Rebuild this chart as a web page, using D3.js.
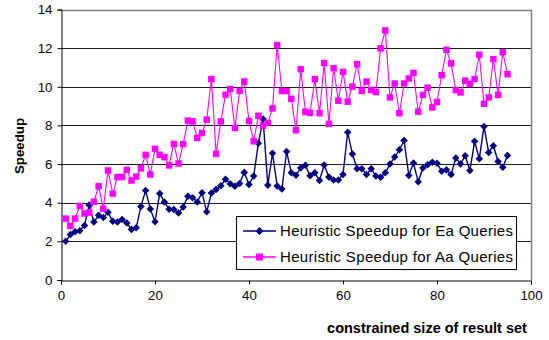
<!DOCTYPE html>
<html>
<head>
<meta charset="utf-8">
<script src="https://cdn.jsdelivr.net/npm/d3@7"></script>
<style>
  html, body { margin: 0; padding: 0; background: #fff; }
  svg { display: block; font-family: "Liberation Sans", Arial, sans-serif; }
</style>
</head>
<body>
<div id="chart"></div>
<script>
const xs = d3.range(1, 96);
const eaSpeedup = [2.0, 2.35, 2.5, 2.55, 2.82, 3.88, 3.0, 3.35, 3.23, 3.51,
  3.04, 3.0, 3.13, 2.95, 2.62, 2.7, 3.8, 4.63, 3.68, 3.01,
  4.48, 4.04, 3.66, 3.65, 3.47, 3.78, 4.34, 4.26, 4.04, 4.52,
  3.53, 4.5, 4.69, 4.88, 5.21, 4.98, 4.85, 5.0, 5.57, 4.94,
  5.38, 7.08, 8.33, 4.91, 6.56, 4.86, 4.71, 6.65, 5.55, 5.42,
  5.8, 5.94, 5.4, 5.55, 5.15, 5.95, 5.33, 5.17, 5.18, 5.46,
  7.65, 6.52, 5.76, 5.76, 5.46, 5.76, 5.38, 5.32, 5.55, 6.0,
  6.36, 6.74, 7.22, 5.41, 6.05, 5.08, 5.8, 5.96, 6.1, 6.04,
  5.63, 5.7, 5.46, 6.31, 6.01, 6.43, 5.67, 7.18, 6.27, 7.95,
  6.6, 6.95, 6.13, 5.83, 6.44];
const aaSpeedup = [3.18, 2.8, 3.18, 3.83, 3.44, 3.49, 4.05, 4.85, 3.69, 5.67,
  4.47, 5.33, 5.33, 5.7, 5.15, 5.35, 5.78, 6.48, 5.46, 6.79,
  6.48, 6.36, 5.93, 7.04, 6.03, 7.04, 8.25, 8.21, 7.35, 7.61,
  8.3, 10.4, 6.53, 8.21, 9.59, 9.88, 7.87, 9.79, 10.27, 8.23,
  7.18, 8.5, 7.99, 8.13, 8.88, 12.16, 9.78, 9.78, 9.38, 7.75,
  10.91, 8.71, 8.65, 10.4, 8.63, 11.23, 8.08, 10.96, 9.28, 10.77,
  9.23, 10.01, 11.17, 9.79, 10.27, 9.83, 9.73, 11.99, 12.92, 9.45,
  10.17, 8.63, 10.17, 10.43, 10.72, 8.71, 9.58, 9.95, 8.93, 9.21,
  10.6, 11.91, 11.21, 9.83, 9.71, 10.32, 10.15, 10.4, 11.66, 9.12,
  9.45, 11.43, 9.58, 11.79, 10.65];
const xTicks = [0, 20, 40, 60, 80, 100];
const yTicks = [0, 2, 4, 6, 8, 10, 12, 14];
const seriesNames = ["Heuristic Speedup for Ea Queries", "Heuristic Speedup for Aa Queries"];
const xTitle = "constrained size of result set";
const yTitle = "Speedup";

const W = 549, H = 340;
const FONT = "\"Liberation Sans\", Arial, sans-serif";
const svg = d3.select("#chart").append("svg").attr("width", W).attr("height", H);

const x = d3.scaleLinear().domain([0, 100]).range([61, 531]);
const y = d3.scaleLinear().domain([0, 14]).range([280, 9.5]);

// gridlines
svg.append("g").selectAll("line").data(yTicks.filter(t => t > 0 && t < 14)).join("line")
  .attr("x1", x(0)).attr("x2", x(100))
  .attr("y1", d => Math.round(y(d)) + 0.5).attr("y2", d => Math.round(y(d)) + 0.5)
  .attr("stroke", "#1a1a1a").attr("stroke-width", 1);

// plot frame (top & right, gray)
svg.append("path")
  .attr("d", `M${x(0)},${Math.round(y(14)) + 0.5}H${Math.round(x(100)) + 0.5}V${y(0)}`)
  .attr("fill", "none").attr("stroke", "#808080").attr("stroke-width", 1.5);

// axes
const yAxis = d3.axisLeft(y).tickValues(yTicks).tickSize(4).tickPadding(5).tickFormat(d3.format("d"));
const gy = svg.append("g").attr("transform", `translate(${Math.round(x(0)) + 0.5},0)`).call(yAxis);
const xAxis = d3.axisBottom(x).tickValues(xTicks).tickSize(4).tickPadding(6).tickFormat(d3.format("d"));
const gx = svg.append("g").attr("transform", `translate(0,${Math.round(y(0)) + 0.5})`).call(xAxis);
[gx, gy].forEach(g => {
  g.select(".domain").attr("stroke", "#000").attr("stroke-width", 1);
  g.selectAll(".tick line").attr("stroke", "#000");
  g.selectAll(".tick text").attr("fill", "#000").attr("font-size", 13.3)
    .attr("font-family", FONT);
});

// series
const series = [
  { name: seriesNames[0], values: eaSpeedup, color: "#000080", symbol: d3.symbolDiamond2, size: 36, width: 1.4 },
  { name: seriesNames[1], values: aaSpeedup, color: "#ff00ff", symbol: d3.symbolSquare, size: 42, width: 1.1 }
];
series.forEach(s => {
  const pts = xs.map((xv, i) => [xv, s.values[i]]);
  svg.append("path").datum(pts)
    .attr("fill", "none").attr("stroke", s.color).attr("stroke-width", s.width)
    .attr("d", d3.line().x(d => x(d[0])).y(d => y(d[1])));
  svg.append("g").selectAll("path").data(pts).join("path")
    .attr("transform", d => `translate(${x(d[0])},${y(d[1])})`)
    .attr("d", d3.symbol().type(s.symbol).size(s.size))
    .attr("fill", s.color);
});

// legend
const lg = svg.append("g");
lg.append("rect").attr("x", 236.5).attr("y", 216.5).attr("width", 280).attr("height", 53)
  .attr("fill", "#fff").attr("stroke", "#000").attr("stroke-width", 1);
series.forEach((s, i) => {
  const cy = 231 + i * 26;
  lg.append("line").attr("x1", 243).attr("x2", 276).attr("y1", cy).attr("y2", cy)
    .attr("stroke", s.color).attr("stroke-width", s.width + 0.3);
  lg.append("path").attr("transform", `translate(259.5,${cy})`)
    .attr("d", d3.symbol().type(s.symbol).size(s.size + 6)).attr("fill", s.color);
  lg.append("text").attr("x", 280).attr("y", cy + 5.2).attr("font-size", 15)
    .attr("textLength", 233).attr("lengthAdjust", "spacing")
    .attr("fill", "#000").text(s.name);
});

// titles
svg.append("text").attr("x", 427).attr("y", 333).attr("text-anchor", "middle")
  .attr("font-size", 14.5).attr("font-weight", "bold").text(xTitle);
svg.append("text").attr("transform", "translate(24,146) rotate(-90)").attr("text-anchor", "middle")
  .attr("font-size", 13.3).attr("font-weight", "bold").text(yTitle);
</script>
</body>
</html>
